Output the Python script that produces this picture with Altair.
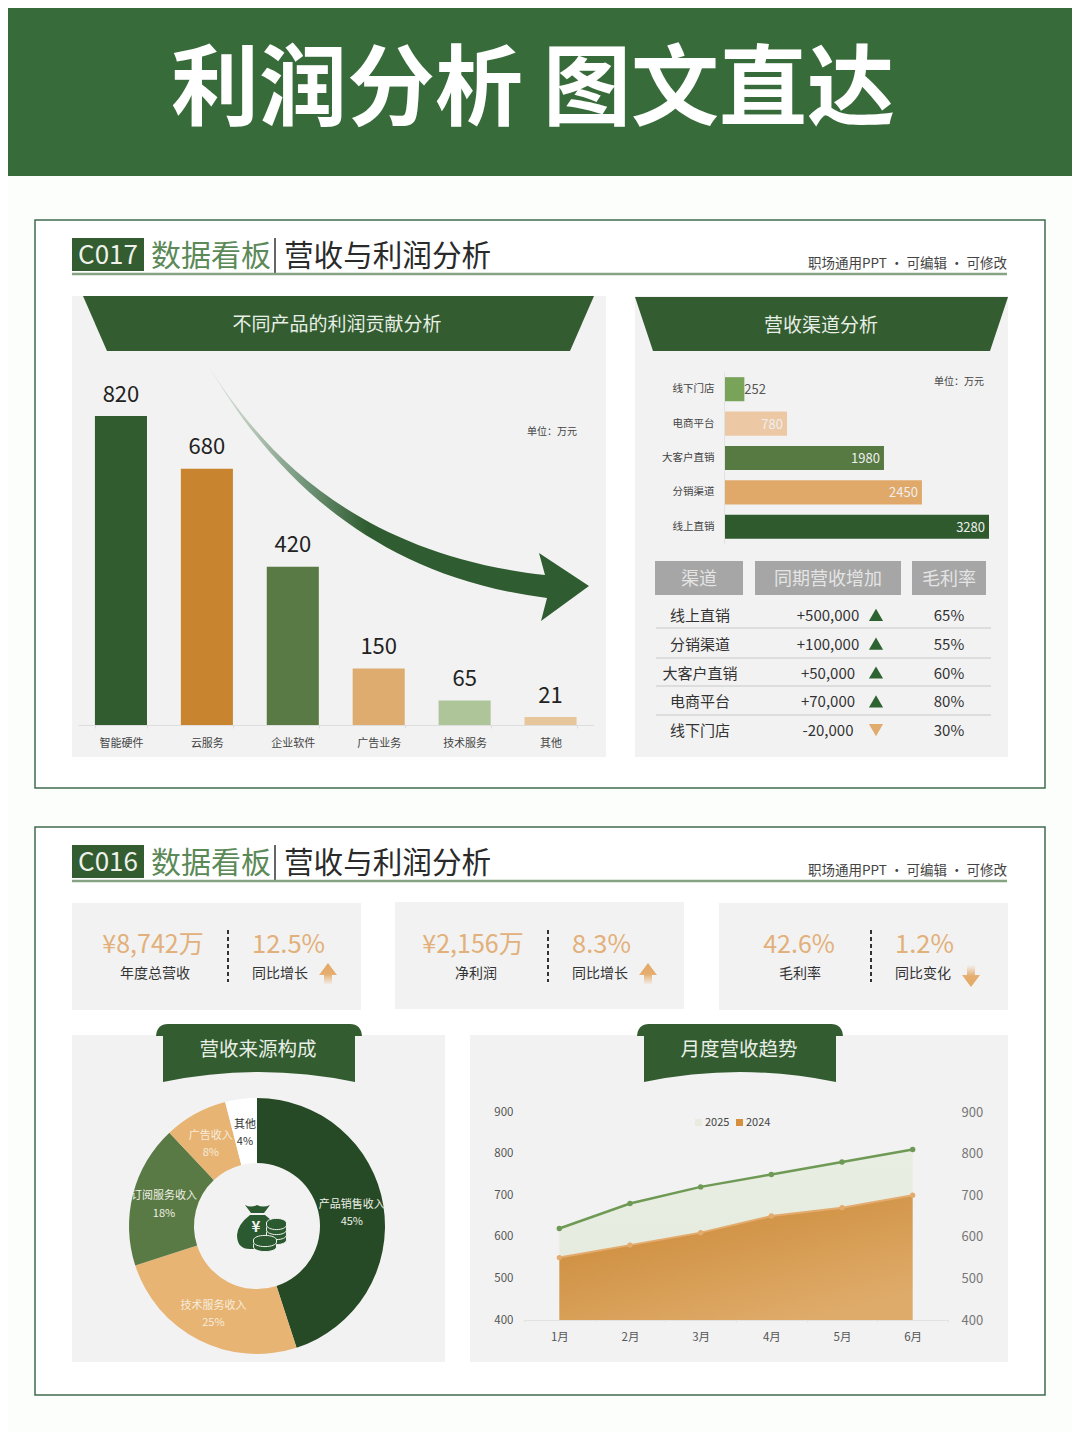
import altair as alt
import pandas as pd

CJK = "Noto Sans CJK SC"
PANEL = "#f2f2f2"
DARKG = "#335c30"
M = 8           # page margin: every page coordinate below is reduced by it
W, H = 1064, 1424

# ---------- data ----------
profit_cats = ["智能硬件", "云服务", "企业软件", "广告业务", "技术服务", "其他"]
profit_vals = [820, 680, 420, 150, 65, 21]
profit_cols = ["#315c30", "#c8842f", "#5a7a45", "#deac6e", "#aec599", "#e8c69b"]

chan_cats = ["线下门店", "电商平台", "大客户直销", "分销渠道", "线上直销"]
chan_vals = [252, 780, 1980, 2450, 3280]
chan_cols = ["#7aa35a", "#ecc9a4", "#567a42", "#e0a96a", "#2e5a2e"]

tbl_rows = ["线上直销", "分销渠道", "大客户直销", "电商平台", "线下门店"]
tbl_delta = ["+500,000", "+100,000", "+50,000", "+70,000", "-20,000"]
tbl_dir = ["up", "up", "up", "up", "down"]
tbl_margin = ["65%", "55%", "60%", "80%", "30%"]
tbl_heads = ["渠道", "同期营收增加", "毛利率"]

kpi_values = ["¥8,742万", "¥2,156万", "42.6%"]
kpi_labels = ["年度总营收", "净利润", "毛利率"]
kpi_changes = ["12.5%", "8.3%", "1.2%"]
kpi_change_labels = ["同比增长", "同比增长", "同比变化"]
kpi_dirs = ["up", "up", "down"]

src_cats = ["产品销售收入", "技术服务收入", "订阅服务收入", "广告收入", "其他"]
src_vals = [45, 25, 18, 8, 4]
src_cols = ["#264a26", "#e8b474", "#5a7a45", "#e8b474", "#ffffff"]
src_text = ["#eef0e6", "#f6ecdc", "#eef0e6", "#f6ecdc", "#333333"]

months = ["1月", "2月", "3月", "4月", "5月", "6月"]
rev_2025 = [620, 680, 720, 750, 780, 810]
rev_2024 = [550, 580, 610, 650, 670, 700]
y_ticks = [400, 500, 600, 700, 800, 900]

# ---------- helpers ----------
one = alt.Data(values=[{"a": 1}])
L = []


def box(x1, y1, x2, y2, fill, stroke=None, sw=0):
    kw = {"stroke": stroke, "strokeWidth": sw} if stroke else {}
    L.append(alt.Chart(one).mark_rect(color=fill, opacity=1, **kw).encode(
        x=alt.value(x1 - M), x2=alt.value(x2 - M), y=alt.value(y1 - M), y2=alt.value(y2 - M)))


def rule(x1, y1, x2, y2, color, w=1, dash=None):
    kw = {"strokeDash": dash} if dash else {}
    L.append(alt.Chart(one).mark_rule(color=color, strokeWidth=w, **kw).encode(
        x=alt.value(x1 - M), x2=alt.value(x2 - M), y=alt.value(y1 - M), y2=alt.value(y2 - M)))


def label(x, y, s, size, color, align="center", weight=400, font=CJK):
    L.append(alt.Chart(one).mark_text(
        font=font, fontSize=size, color=color, align=align, baseline="middle", fontWeight=weight
    ).encode(x=alt.value(x - M), y=alt.value(y - M + 1.5), text=alt.value(s)))


def shape(path, fill, stroke=None, sw=0):
    kw = {"stroke": stroke, "strokeWidth": sw} if stroke else {"strokeWidth": 0}
    L.append(alt.Chart(one).mark_point(
        shape=path, size=4, filled=True, fill=fill, opacity=1, **kw
    ).encode(x=alt.value(-M), y=alt.value(-M)))


def grad(stops, x1=0, y1=0, x2=0, y2=1):
    return alt.LinearGradient(
        gradient="linear", x1=x1, y1=y1, x2=x2, y2=y2,
        stops=[alt.GradientStop(offset=o, color=c) for o, c in stops])


# ---------- page ----------
box(M, M, 1072, 176, "#376b3a")
label(533, 90, "利润分析 图文直达", 88, "#ffffff", weight=700)

box(35, 220, 1045, 788, "#ffffff", "#3f6b4f", 1.5)
box(35, 827, 1045, 1395, "#ffffff", "#3f6b4f", 1.5)


def header(code, top):
    box(72, top, 144, top + 33, DARKG)
    label(108, top + 16, code, 26, "#eef2ea")
    label(151, top + 17, "数据看板", 30, "#5b8a58", "left")
    rule(275, top, 275, top + 35, "#333333", 1.5)
    label(284, top + 17, "营收与利润分析", 29.6, "#2a2a2a", "left")
    rule(72, top + 36, 1007, top + 36, "#86a384", 2.5)
    label(1007, top + 24, "职场通用PPT · 可编辑 · 可修改", 13.5, "#444444", "right")


header("C017", 238)
header("C016", 845)

# ---------- profit panel ----------
box(72, 296, 606, 757, PANEL)
box(635, 296, 1008, 757, PANEL)
shape("M83 296 L594 296 L570 351 L107 351 Z", DARKG)
shape("M635 297 L1008 297 L990 351 L653 351 Z", DARKG)
label(337, 323, "不同产品的利润贡献分析", 19, "#e8efe6")
label(821, 324, "营收渠道分析", 19, "#e8efe6")
label(552, 430, "单位：万元", 10, "#444444")
label(959, 380, "单位：万元", 10, "#444444")

# curved arrow
shape("M208 365 C255 440 345 553 545 575 L539 553 L589 586 L541 621 L547 598 C360 575 262 458 208 365 Z",
      grad([(0, "#e6eae6"), (0.11, "#b8c7b8"), (0.24, "#789a80"), (0.42, "#2f5c30"), (1, "#2f5c30")], 0, 0, 1, 0))

profit = pd.DataFrame({"cat": profit_cats, "val": profit_vals})
px = dict(domain=profit_cats, range=[78 - M, 593.5 - M], paddingInner=0.394, paddingOuter=0.197)
py = dict(domain=[0, 820], range=[725 - M, 416 - M], nice=False)
L.append(alt.Chart(profit).mark_bar().encode(
    x=alt.X("cat:N", sort=None, scale=alt.Scale(**px), axis=alt.Axis(
        title=None, orient="bottom", offset=-(H - (725 - M)), labelAngle=0, labelFont=CJK, labelFontSize=11,
        labelColor="#444444", domainColor="#dddddd", tickColor="#dddddd", tickSize=3, tickBand="extent",
        labelPadding=9, zindex=1)),
    y=alt.Y("val:Q", scale=alt.Scale(**py), axis=None),
    color=alt.Color("cat:N", sort=None, scale=alt.Scale(domain=profit_cats, range=profit_cols), legend=None),
))
L.append(alt.Chart(profit).mark_text(font=CJK, fontSize=22, color="#222222", baseline="bottom", dy=-9.5).encode(
    x=alt.X("cat:N", sort=None, scale=alt.Scale(**px), axis=None),
    y=alt.Y("val:Q", scale=alt.Scale(**py), axis=None),
    text="val:Q",
))

# ---------- channel bars ----------
chan = pd.DataFrame({"cat": chan_cats, "val": chan_vals})
cx = dict(domain=[0, 3280], range=[724 - M, 989 - M], nice=False)
cy = dict(domain=chan_cats, range=[372 - M, 544 - M], paddingInner=0.3, paddingOuter=0.15)
L.append(alt.Chart(chan).mark_bar().encode(
    y=alt.Y("cat:N", sort=None, scale=alt.Scale(**cy), axis=alt.Axis(
        title=None, orient="left", offset=-(724 - M), labelFont=CJK, labelFontSize=10.5, labelColor="#444444",
        domainColor="#e2e2e2", ticks=False, labelPadding=10, zindex=1)),
    x=alt.X("val:Q", scale=alt.Scale(**cx), axis=None),
    color=alt.Color("cat:N", sort=None, scale=alt.Scale(domain=chan_cats, range=chan_cols), legend=None),
))
L.append(alt.Chart(chan[chan.val >= 500]).mark_text(
    font=CJK, fontSize=13, color="#eeeeee", align="right", baseline="middle", dx=-4, dy=1).encode(
    y=alt.Y("cat:N", sort=None, scale=alt.Scale(**cy), axis=None),
    x=alt.X("val:Q", scale=alt.Scale(**cx), axis=None),
    text="val:Q",
))
L.append(alt.Chart(chan[chan.val < 500]).mark_text(
    font=CJK, fontSize=13, color="#555555", align="left", baseline="middle", dx=0, dy=1).encode(
    y=alt.Y("cat:N", sort=None, scale=alt.Scale(**cy), axis=None),
    x=alt.X("val:Q", scale=alt.Scale(**cx), axis=None),
    text="val:Q",
))

# ---------- table ----------
for (x1, x2), h in zip([(655, 743), (755, 901), (912, 986)], tbl_heads):
    box(x1, 561, x2, 595, "#a6a6a6")
    label((x1 + x2) / 2, 578, h, 18, "#e4e4e4")
for yy in [628, 658, 686, 715]:
    rule(656, yy, 991, yy, "#c8c8c8", 1)

tbl = pd.DataFrame({"row": tbl_rows, "delta": tbl_delta, "dir": tbl_dir, "margin": tbl_margin})
ry = alt.Y("row:N", sort=None, axis=None,
           scale=alt.Scale(domain=tbl_rows, range=[600.6 - M, 744.4 - M], paddingInner=0, paddingOuter=0))
for col, xx in [("row", 700), ("delta", 828), ("margin", 949)]:
    L.append(alt.Chart(tbl).mark_text(font=CJK, fontSize=15, color="#333333", baseline="middle", dy=1).encode(
        x=alt.value(xx - M), y=ry, text=f"{col}:N"))
L.append(alt.Chart(tbl).mark_point(filled=True, opacity=1, size=200, strokeWidth=0).encode(
    x=alt.value(876 - M), y=ry,
    shape=alt.Shape("dir:N", scale=alt.Scale(domain=["up", "down"], range=["triangle-up", "triangle-down"]), legend=None),
    color=alt.Color("dir:N", scale=alt.Scale(domain=["up", "down"], range=["#2d6331", "#e0ac6c"]), legend=None),
))

# ---------- KPI cards ----------
ORANGE = "#e2b07a"
kpi_geo = [(72, 903, 361, 153, 155, 228, 252, 328), (395, 902, 684, 473, 476, 548, 572, 648),
           (719, 903, 1008, 799, 800, 871, 895, 971)]
for i, (x1, top, x2, cv, cl, dx_, cc, ax) in enumerate(kpi_geo):
    box(x1, top, x2, top + 107, PANEL)
    label(cv, 943, kpi_values[i], 25, ORANGE)
    label(cl, 972, kpi_labels[i], 14, "#333333")
    rule(dx_, 930, dx_, 982, "#333333", 2, [4, 3])
    label(cc, 943, kpi_changes[i], 25.5, ORANGE, "left")
    label(cc, 972, kpi_change_labels[i], 14, "#333333", "left")
    if kpi_dirs[i] == "up":
        shape(f"M{ax} 963 L{ax+9} 975 L{ax+4} 975 L{ax+4} 985 L{ax-4} 985 L{ax-4} 975 L{ax-9} 975 Z",
              grad([(0, "#e3a865"), (0.5, "#e5ae70"), (1, PANEL)]))
    else:
        shape(f"M{ax} 987 L{ax+9} 975 L{ax+4} 975 L{ax+4} 965 L{ax-4} 965 L{ax-4} 975 L{ax-9} 975 Z",
              grad([(0, PANEL), (0.5, "#e5ae70"), (1, "#e3a865")]))

# ---------- bottom panels ----------
box(72, 1035, 445, 1362, PANEL)
box(470, 1035, 1008, 1362, PANEL)


def ribbon(o):
    shape(f"M{156+o} 1036 Q{157+o} 1024 {168+o} 1024 L{350+o} 1024 Q{361+o} 1024 {362+o} 1036 L{355+o} 1036 "
          f"L{355+o} 1082 Q{259+o} 1062 {163+o} 1082 L{163+o} 1036 Z", DARKG)


ribbon(0)
ribbon(481)
label(258, 1048, "营收来源构成", 19.5, "#e8efe6")
label(739, 1048, "月度营收趋势", 19.5, "#e8efe6")

# ---------- donut ----------
src = pd.DataFrame({
    "cat": src_cats, "val": src_vals, "i": list(range(len(src_cats))),
    "lab": [f"{c}\n{v}%" for c, v in zip(src_cats, src_vals)],
})
L.append(alt.Chart(src).mark_arc(outerRadius=128, innerRadius=63).encode(
    x=alt.value(257 - M), y=alt.value(1226 - M),
    theta=alt.Theta("val:Q", stack=True),
    order=alt.Order("i:Q"),
    color=alt.Color("cat:N", sort=None, scale=alt.Scale(domain=src_cats, range=src_cols), legend=None),
))
L.append(alt.Chart(src).mark_text(radius=96, font=CJK, fontSize=11, lineBreak="\n", lineHeight=17.5,
                                  baseline="middle", dy=-6).encode(
    x=alt.value(257 - M), y=alt.value(1226 - M),
    theta=alt.Theta("val:Q", stack=True),
    order=alt.Order("i:Q"),
    text="lab:N",
    color=alt.Color("cat:N", sort=None, scale=alt.Scale(domain=src_cats, range=src_text), legend=None),
))

# money bag icon
ICON = "#2c5a30"
shape("M245 1205 Q251 1208 257 1205 Q263 1208 270 1205 L264 1213 L251 1213 Z", ICON)
shape("M250 1215 L265 1215 Q275 1222 276 1232 L276 1240 Q276 1249 264 1249 L250 1249 Q237 1249 237 1235 Q238 1224 250 1215 Z", ICON)
label(256, 1225, "¥", 15, PANEL, weight=700)


def coin(cx_, cy_, rx):
    ry_ = 4.6
    shape(f"M{cx_-rx} {cy_} A{rx} {ry_} 0 1 1 {cx_+rx} {cy_} L{cx_+rx} {cy_+2} A{rx} {ry_} 0 1 1 {cx_-rx} {cy_+2} Z",
          ICON, PANEL, 1)


for cy_ in [1238, 1233, 1228, 1223]:
    coin(276.5, cy_, 10)
for cy_ in [1245, 1240]:
    coin(265, cy_, 11.5)

# ---------- area chart ----------
trend = pd.DataFrame({"m": months, "a": rev_2025, "b": rev_2024})
ax_x = dict(domain=months, range=[524 - M, 948 - M], paddingInner=0, paddingOuter=0)
ax_y = dict(domain=[400, 900], range=[1320 - M, 1112 - M], nice=False, zero=False)
X0 = alt.X("m:N", sort=None, scale=alt.Scale(**ax_x), axis=None)


def Y(col, axis=None):
    return alt.Y(f"{col}:Q", scale=alt.Scale(**ax_y), axis=axis)


L.append(alt.Chart(trend).mark_area(color=grad([(0, "#e8eee2"), (1, "#e4eadc")]), opacity=1).encode(
    x=alt.X("m:N", sort=None, scale=alt.Scale(**ax_x), axis=alt.Axis(
        title=None, orient="bottom", offset=-(H - (1320 - M)), labelAngle=0, labelFont=CJK, labelFontSize=11.5,
        labelColor="#555555", domainColor="#e2e2e2", tickColor="#e2e2e2", tickSize=2, tickBand="extent",
        labelPadding=9, zindex=1)),
    y=Y("a", alt.Axis(title=None, orient="left", offset=-(523 - M), values=y_ticks, labelFont=CJK, labelFontSize=11.5,
                      labelColor="#555555", domain=False, ticks=False, grid=False, labelPadding=10, zindex=1)),
    y2=alt.Y2Datum(400),
))
L.append(alt.Chart(trend).mark_line(color="#6f9a55", strokeWidth=2.5,
                                    point=alt.OverlayMarkDef(filled=True, color="#6f9a55", size=30, opacity=1)).encode(
    x=X0, y=Y("a")))
L.append(alt.Chart(trend).mark_area(
    color=grad([(0, "#c98632"), (1, "#dfab6a")], 0, 0, 0.7, 1), opacity=1).encode(
    x=X0,
    y=Y("b", alt.Axis(title=None, orient="right", offset=-(W - (950 - M)), values=y_ticks, labelFont=CJK, labelFontSize=13,
                      labelColor="#777777", domain=False, ticks=False, grid=False, labelPadding=11, zindex=1)),
    y2=alt.Y2Datum(400),
))
L.append(alt.Chart(trend).mark_line(color="#e3ab6d", strokeWidth=2,
                                    point=alt.OverlayMarkDef(filled=True, color="#e3ab6d", size=28, opacity=1)).encode(
    x=X0, y=Y("b")))

# legend
box(695, 1119, 702, 1126, "#e8ece0")
label(705, 1121, "2025", 11, "#444444", "left")
box(736, 1119, 743, 1126, "#d58f3d")
label(746, 1121, "2024", 11, "#444444", "left")

chart = alt.layer(*L).resolve_scale(
    x="independent", y="independent", color="independent", shape="independent", theta="independent"
).properties(
    width=W, height=H, padding=0, background="#fcfefb",
    autosize=alt.AutoSizeParams(type="none"),
).configure_view(stroke=None)

chart.save("out.html", embed_options={"renderer": "svg", "actions": False})
